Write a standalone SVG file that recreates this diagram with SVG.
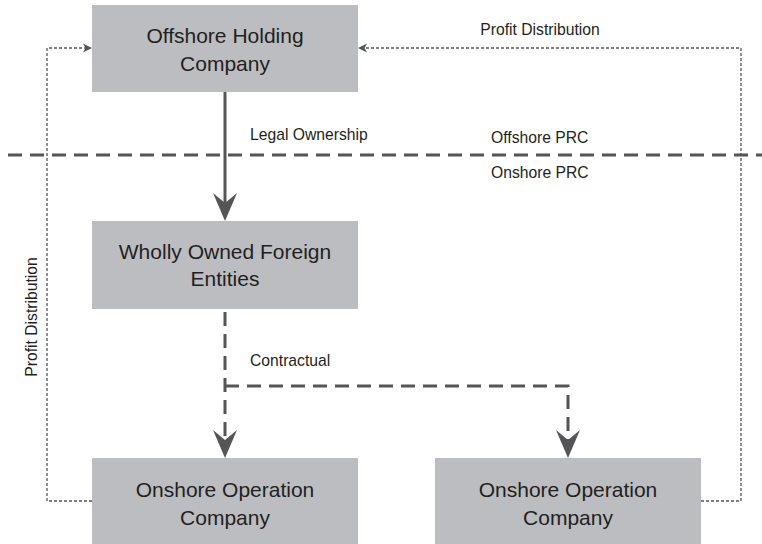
<svg xmlns="http://www.w3.org/2000/svg" width="762" height="544" viewBox="0 0 762 544">
  <defs>
    <style>
      .box { fill: #bcbdc0; }
      .node-text { font-family: "Liberation Sans", Arial, sans-serif; font-size: 21px; fill: #231f20; text-anchor: middle; }
      .label { font-family: "Liberation Sans", Arial, sans-serif; font-size: 15.7px; fill: #231f20; }
      .solid { stroke: #555557; stroke-width: 3; fill: none; }
      .dashed { stroke: #555557; stroke-width: 3; fill: none; stroke-dasharray: 14 8; }
      .dotted { stroke: #555557; stroke-width: 1.3; fill: none; stroke-dasharray: 3 2; }
      .head { fill: #555557; }
    </style>
  </defs>

  <rect width="762" height="544" fill="#ffffff"/>

  <!-- offshore / onshore boundary -->
  <g id="boundary">
    <line x1="8" y1="155" x2="762" y2="155" class="dashed"/>
    <text x="491" y="143" class="label">Offshore PRC</text>
    <text x="491" y="178" class="label">Onshore PRC</text>
  </g>

  <!-- connectors -->
  <g id="connectors">
    <!-- legal ownership -->
    <line x1="225" y1="92" x2="225" y2="204" class="solid"/>
    <polygon points="225,221 213,193 225,203 237,193" class="head"/>
    <text x="250" y="140" class="label">Legal Ownership</text>

    <!-- contractual -->
    <path d="M225,312 V442 M225,386 H568 V442" class="dashed"/>
    <polygon points="225,458 213,430 225,440 237,430" class="head"/>
    <polygon points="568,458 556,430 568,440 580,430" class="head"/>
    <text x="250" y="366" class="label">Contractual</text>

    <!-- profit distribution, left -->
    <path d="M92,501 H47 V48 H86" class="dotted"/>
    <polygon points="92,48 83,43.5 85.5,48 83,52.5" class="head"/>
    <text transform="translate(37,317) rotate(-90)" text-anchor="middle" class="label">Profit Distribution</text>

    <!-- profit distribution, right -->
    <path d="M701,501 H741 V48 H364" class="dotted"/>
    <polygon points="358,48 367,43.5 364.5,48 367,52.5" class="head"/>
    <text x="540" y="35" text-anchor="middle" class="label">Profit Distribution</text>
  </g>

  <g id="offshore-holding">
    <rect x="92" y="5" width="266" height="87" class="box"/>
    <text x="225" y="43" class="node-text">Offshore Holding</text>
    <text x="225" y="71" class="node-text">Company</text>
  </g>

  <g id="wofe">
    <rect x="92" y="221" width="266" height="88" class="box"/>
    <text x="225" y="259" class="node-text">Wholly Owned Foreign</text>
    <text x="225" y="286" class="node-text">Entities</text>
  </g>

  <g id="onshore-op-1">
    <rect x="92" y="458" width="266" height="86" class="box"/>
    <text x="225" y="497" class="node-text">Onshore Operation</text>
    <text x="225" y="525" class="node-text">Company</text>
  </g>

  <g id="onshore-op-2">
    <rect x="435" y="458" width="266" height="86" class="box"/>
    <text x="568" y="497" class="node-text">Onshore Operation</text>
    <text x="568" y="525" class="node-text">Company</text>
  </g>
</svg>
